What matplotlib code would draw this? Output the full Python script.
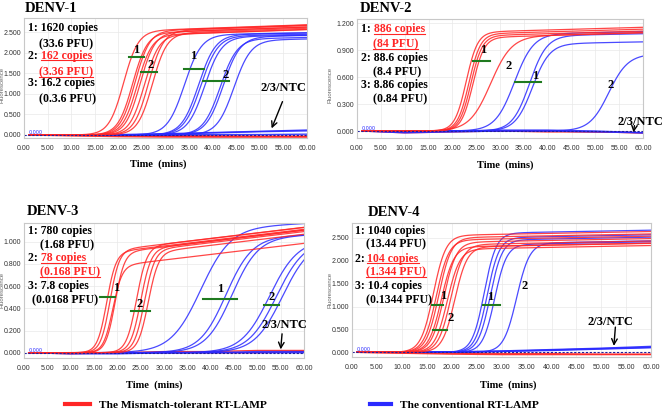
import numpy as np
import matplotlib
matplotlib.use("Agg")
import matplotlib.pyplot as plt
from matplotlib.lines import Line2D

# ------------------------------------------------------------------ data
time_grid = np.linspace(1.0, 60.0, 400)
ntc_time = [1, 10, 20, 30, 40, 50, 60]
x_ticks = [0, 5, 10, 15, 20, 25, 30, 35, 40, 45, 50, 55, 60]

# DENV-1
d1_red_tt = [21.1, 23.0, 23.5, 24.0, 24.6, 25.5, 26.4, 27.2]
d1_red_max = [2.52, 2.47, 2.52, 2.42, 2.48, 2.42, 2.52, 2.46]
d1_red_slope = [1.55, 1.55, 1.55, 1.55, 1.55, 1.55, 1.55, 1.55]
d1_blue_tt = [34.0, 37.0, 37.5, 38.3, 41.6, 42.2, 44.5]
d1_blue_max = [2.43, 2.43, 2.40, 2.38, 2.33, 2.38, 2.30]
d1_blue_slope = [1.8, 1.8, 1.8, 1.8, 1.8, 1.8, 1.8]
d1_red_ntc = [[0.0, -0.02, -0.04, -0.05, -0.05, -0.05, -0.05],
              [0.0, -0.01, -0.02, -0.03, -0.04, -0.04, -0.04],
              [0.0, 0.0, -0.01, -0.02, -0.02, -0.03, -0.03]]
d1_blue_ntc = [[0.0, 0.0, 0.01, 0.03, 0.06, 0.09, 0.12],
               [0.0, 0.0, 0.0, 0.02, 0.05, 0.08, 0.10],
               [0.0, 0.0, 0.0, 0.0, 0.01, 0.01, 0.02]]

# DENV-2
d2_red_tt = [22.9, 23.5, 23.9, 24.3, 28.0]
d2_red_max = [1.10, 1.08, 1.06, 1.04, 1.05]
d2_red_slope = [1.2, 1.2, 1.2, 1.2, 2.2]
d2_blue_tt = [33.0, 36.2, 36.8, 52.8]
d2_blue_max = [1.08, 1.06, 0.97, 0.85]
d2_blue_slope = [2.0, 1.8, 1.8, 2.0]
d2_red_ntc = [[0.0, -0.02, -0.01, 0.0, 0.0, -0.01, -0.02],
              [0.0, -0.01, 0.0, 0.0, -0.01, -0.01, -0.02]]
d2_blue_ntc = [[0.0, -0.01, 0.0, 0.01, 0.01, 0.0, -0.02],
               [0.0, -0.02, -0.01, 0.0, 0.0, -0.01, -0.02]]

# DENV-3
d3_red_tt = [17.7, 18.4, 19.0, 19.5, 24.1, 25.0, 25.8, 26.6]
d3_red_max = [0.90, 0.92, 0.78, 0.90, 0.95, 0.93, 0.92, 0.90]
d3_red_slope = [1.0, 1.0, 1.0, 1.0, 1.1, 1.1, 1.1, 1.1]
d3_blue_tt = [37.8, 43.2, 44.5, 52.5, 54.0, 55.3]
d3_blue_max = [1.12, 1.03, 1.03, 1.00, 1.00, 1.00]
d3_blue_slope = [3.2, 2.8, 2.8, 3.0, 3.0, 3.0]
d3_red_ntc = [[0.0, 0.0, 0.0, 0.01, 0.01, 0.02, 0.02],
              [0.0, -0.01, 0.0, 0.0, 0.0, 0.0, 0.01]]
d3_blue_ntc = [[0.0, 0.0, 0.0, 0.0, 0.0, 0.01, 0.01],
               [0.0, -0.01, -0.01, 0.0, 0.0, 0.0, 0.0]]

# DENV-4
d4_red_tt = [16.3, 16.9, 17.4, 17.9, 18.4, 19.1, 19.8, 20.6]
d4_red_max = [2.55, 2.45, 2.50, 2.30, 2.40, 2.25, 2.35, 2.30]
d4_red_slope = [1.25, 1.25, 1.25, 1.25, 1.25, 1.25, 1.25, 1.25]
d4_blue_tt = [26.5, 27.1, 27.7, 28.6, 33.0]
d4_blue_max = [2.60, 2.50, 2.45, 2.35, 2.38]
d4_blue_slope = [1.2, 1.2, 1.2, 1.2, 1.3]
d4_red_ntc = [[0.0, -0.02, -0.04, -0.05, -0.05, -0.05, -0.05],
              [0.0, -0.01, -0.02, -0.03, -0.03, -0.04, -0.04]]
d4_blue_ntc = [[0.0, 0.0, 0.01, 0.03, 0.06, 0.09, 0.13],
               [0.0, 0.0, 0.01, 0.02, 0.05, 0.08, 0.11],
               [0.0, 0.0, 0.0, 0.02, 0.04, 0.07, 0.10]]

drift_red = [0.004, 0.0015, 0.005, 0.002]
drift_blue = [0.002, 0.001, 0.002, 0.002]

titles = ["DENV-1", "DENV-2", "DENV-3", "DENV-4"]
conc_text = [
    ["1: 1620 copies", "(33.6 PFU)", "2: 162 copies", "(3.36 PFU)", "3: 16.2 copies", "(0.3.6 PFU)"],
    ["1: 886 copies", "(84 PFU)", "2: 88.6 copies", "(8.4 PFU)", "3: 8.86 copies", "(0.84 PFU)"],
    ["1: 780 copies", "(1.68 PFU)", "2: 78 copies", "(0.168 PFU)", "3: 7.8 copies", "(0.0168 PFU)"],
    ["1: 1040 copies", "(13.44 PFU)", "2: 104 copies", "(1.344 PFU)", "3: 10.4 copies", "(0.1344 PFU)"],
]
red_level = [2, 1, 2, 2]   # which dilution is highlighted in red

# green markers: (x0, x1, y, label, label_x, label_y)
markers = [
    [(22.2, 25.5, 1.90, "1", 23.8, 2.07), (24.8, 28.1, 1.52, "2", 26.9, 1.69),
     (33.9, 38.1, 1.60, "1", 35.9, 1.91), (37.9, 43.4, 1.31, "2", 42.8, 1.45)],
    [(24.3, 27.8, 0.78, "1", 26.4, 0.90), (None, None, None, "2", 31.8, 0.72),
     (33.2, 38.6, 0.55, "1", 37.3, 0.61), (None, None, None, "2", 53.2, 0.51)],
    [(16.3, 19.5, 0.505, "1", 19.7, 0.58), (22.9, 27.1, 0.378, "2", 24.7, 0.44),
     (38.3, 45.7, 0.486, "1", 42.0, 0.57), (51.5, 54.7, 0.43, "2", 53.1, 0.50)],
    [(16.0, 18.3, 1.04, "1", 18.2, 1.23), (16.2, 19.1, 0.49, "2", 19.7, 0.74),
     (26.3, 29.6, 1.04, "1", 27.7, 1.21), (None, None, None, "2", 34.7, 1.45)],
]
# NTC label and arrow: (text_x, text_y, arrow_from_x, arrow_from_y, arrow_to_x, arrow_to_y)
ntc_note = [
    (55.0, 1.13, 54.8, 0.81, 52.5, 0.16),
    (59.5, 0.10, 58.2, 0.06, 58.0, -0.015),
    (55.8, 0.25, 55.3, 0.17, 55.0, 0.03),
    (51.8, 0.67, 52.8, 0.55, 52.5, 0.14),
]

# ------------------------------------------------------------------ layout
W, H = 666, 416
RED = "#ff2626"
BLUE = "#2a2aff"
GREEN = "#1f7a1f"
SERIF = "Liberation Serif"
TICKFONT = "Liberation Sans"

axes_px = [(24, 18, 307, 138), (357, 19, 643, 138),
           (24, 222.7, 304, 357.7), (352, 222.7, 651.3, 356.7)]
ylims = [(-0.073, 2.84), (-0.078, 1.248), (-0.045, 1.171), (-0.096, 2.83)]
yticks = [np.arange(0, 2.51, 0.5), np.arange(0, 1.21, 0.3),
          np.arange(0, 1.01, 0.2), np.arange(0, 2.51, 0.5)]
title_pos = [(25, 8), (360, 9), (27, 211.5), (368, 212)]
xlabel_pos = [(158, 164), (505, 165), (154, 385), (508, 385)]
ylabel_pos = [(2.3, 85), (330, 85), (2.0, 290), (330, 290)]
text_x = [(0.015, 0.054, 0.054), (0.015, 0.056, 0.056), (0.015, 0.057, 0.0275), (0.009, 0.048, 0.048)]
text_y = [[0.9275, 0.794, 0.6975, 0.561, 0.467, 0.336],
          [0.927, 0.801, 0.689, 0.566, 0.46, 0.334],
          [0.953, 0.847, 0.748, 0.642, 0.544, 0.435],
          [0.951, 0.847, 0.742, 0.64, 0.536, 0.433]]

red_series = [(d1_red_tt, d1_red_max, d1_red_slope), (d2_red_tt, d2_red_max, d2_red_slope),
              (d3_red_tt, d3_red_max, d3_red_slope), (d4_red_tt, d4_red_max, d4_red_slope)]
blue_series = [(d1_blue_tt, d1_blue_max, d1_blue_slope), (d2_blue_tt, d2_blue_max, d2_blue_slope),
               (d3_blue_tt, d3_blue_max, d3_blue_slope), (d4_blue_tt, d4_blue_max, d4_blue_slope)]
red_ntc = [d1_red_ntc, d2_red_ntc, d3_red_ntc, d4_red_ntc]
blue_ntc = [d1_blue_ntc, d2_blue_ntc, d3_blue_ntc, d4_blue_ntc]


def amplification(t, tt, pmax, slope, drift):
    sig = 1.0 / (1.0 + np.exp(-(t - tt) / slope))
    return sig * (pmax + drift * (t - tt))


fig = plt.figure(figsize=(6.66, 4.16), dpi=100)
underlined = []

for i in range(4):
    l, t, r, b = axes_px[i]
    ax = fig.add_axes([l / W, 1 - b / H, (r - l) / W, (b - t) / H])
    ax.set_xlim(0, 60)
    ax.set_ylim(*ylims[i])
    ax.set_xticks(x_ticks)
    ax.set_xticklabels([f"{v:.2f}" for v in x_ticks], family=TICKFONT)
    ax.set_yticks(yticks[i])
    ax.set_yticklabels([f"{v:.3f}" for v in yticks[i]], family=TICKFONT)
    ax.tick_params(labelsize=5, length=0, pad=5, colors="#333333", axis="x")
    ax.tick_params(labelsize=5, length=0, pad=2, colors="#333333", axis="y")
    ax.grid(True, color="#e9e9e9", lw=0.5)
    ax.set_axisbelow(True)
    for sp in ax.spines.values():
        sp.set_color("#c8c8c8")
        sp.set_linewidth(0.8)

    # NTC / negative traces
    for vals in red_ntc[i]:
        ax.plot(ntc_time, vals, color=RED, lw=1.0, alpha=0.9)
    for vals in blue_ntc[i]:
        ax.plot(ntc_time, vals, color=BLUE, lw=1.0, alpha=0.9)

    # amplification curves
    tts, pm, sl = blue_series[i]
    for tt, p, s in zip(tts, pm, sl):
        ax.plot(time_grid, amplification(time_grid, tt, p, s, drift_blue[i]), color=BLUE, lw=0.9, alpha=0.85)
    tts, pm, sl = red_series[i]
    for tt, p, s in zip(tts, pm, sl):
        ax.plot(time_grid, amplification(time_grid, tt, p, s, drift_red[i]), color=RED, lw=0.9, alpha=0.85)

    # threshold line
    ax.axhline(0, color="#2020a0", lw=0.8, ls=(0, (2, 1.5)))
    ax.text(1.0, 0.0, "0.000", color="#2a2aff", fontsize=3.5, va="bottom", ha="left")

    # green markers
    for x0, x1, y, lab, lx, ly in markers[i]:
        if x0 is not None:
            ax.plot([x0, x1], [y, y], color=GREEN, lw=1.5)
        ax.text(lx, ly, lab, fontsize=9, fontweight="bold", family=SERIF, ha="center", va="center")

    # NTC label
    tx, ty, ax0, ay0, ax1, ay1 = ntc_note[i]
    ax.text(tx, ty, "2/3/NTC", fontsize=9, fontweight="bold", family=SERIF, ha="center",
            va="center", clip_on=False)
    ax.annotate("", xy=(ax1, ay1), xytext=(ax0, ay0),
                arrowprops=dict(arrowstyle="->", lw=1.0, color="black", shrinkA=0, shrinkB=0))

    # concentration text
    xa, xb, xc = text_x[i]
    for j, line in enumerate(conc_text[i]):
        if j % 2 == 0:
            x = xa
        else:
            x = xc if j == 5 else xb
        y = text_y[i][j]
        level = j // 2 + 1
        is_red = level == red_level[i]
        kw = dict(fontsize=8.5, fontweight="bold", family=SERIF, transform=ax.transAxes)
        if j % 2 == 0 and is_red:
            prefix, rest = line.split(" ", 1)
            tp = ax.text(x, y, prefix + " ", va="center_baseline", ha="left", color="black", **kw)
            kw.pop("transform")
            tr = ax.annotate(rest, xy=(1, 0), xycoords=tp, va="bottom", ha="left", color=RED, **kw)
            underlined.append(tr)
        else:
            tt_ = ax.text(x, y, line, va="center_baseline", ha="left",
                          color=RED if is_red else "black", **kw)
            if is_red:
                underlined.append(tt_)

# titles and axis labels
for i in range(4):
    fig.text(title_pos[i][0] / W, 1 - title_pos[i][1] / H, titles[i], fontsize=10.5,
             fontweight="bold", family=SERIF, ha="left", va="center")
    fig.text(xlabel_pos[i][0] / W, 1 - xlabel_pos[i][1] / H, "Time  (mins)", fontsize=7.5,
             fontweight="bold", family=SERIF, ha="center", va="center")
    fig.text(ylabel_pos[i][0] / W, 1 - ylabel_pos[i][1] / H, "Fluorescence", fontsize=4.3,
             color="#666666", rotation=90, ha="center", va="center", family=TICKFONT)

# legend
leg_prop = dict(family=SERIF, weight="bold", size=8.2)
h_red = Line2D([], [], color=RED, lw=3)
h_blue = Line2D([], [], color=BLUE, lw=3)
fig.legend([h_red], ["The Mismatch-tolerant RT-LAMP"], loc="center left",
           bbox_to_anchor=(65 / W, 1 - 405 / H), frameon=False, prop=leg_prop,
           borderpad=0, borderaxespad=0, handlelength=2.2, handletextpad=0.8)
fig.legend([h_blue], ["The conventional RT-LAMP"], loc="center left",
           bbox_to_anchor=(370 / W, 1 - 405 / H), frameon=False, prop=leg_prop,
           borderpad=0, borderaxespad=0, handlelength=1.8, handletextpad=0.8)

# underline the highlighted (red) dilution
fig.canvas.draw()
renderer = fig.canvas.get_renderer()
inv = fig.transFigure.inverted()
for art in underlined:
    bb = art.get_window_extent(renderer)
    (x0, y0), (x1, y1) = inv.transform([(bb.x0, bb.y0 + 1.5), (bb.x1, bb.y0 + 1.5)])
    fig.add_artist(Line2D([x0, x1], [y0, y1], color=RED, lw=0.8, transform=fig.transFigure))

fig.savefig("out.png", dpi=100)
